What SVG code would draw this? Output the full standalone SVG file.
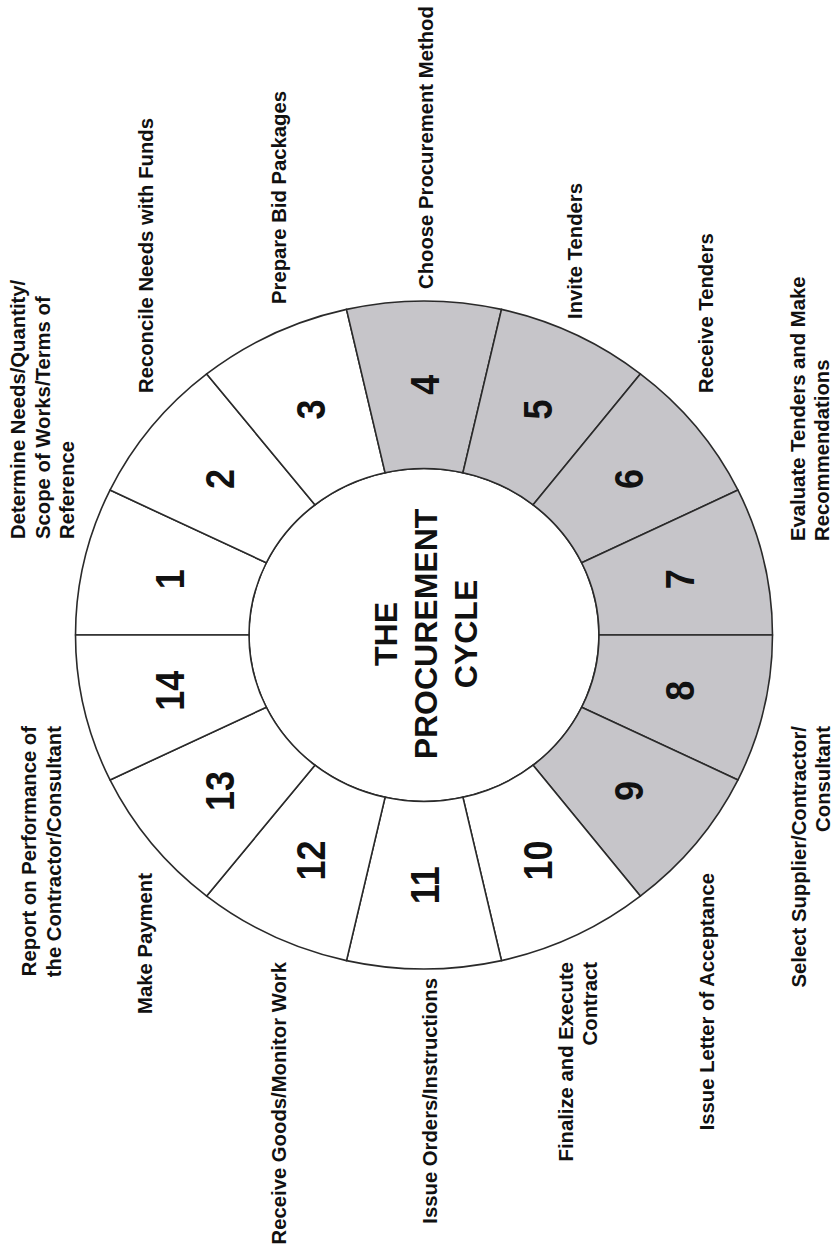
<svg xmlns="http://www.w3.org/2000/svg" width="837" height="1251" viewBox="0 0 837 1251">
<style>
.seg{stroke:#2a2a2a;stroke-width:1.6;stroke-linejoin:round}
.w{fill:#ffffff}
.g{fill:#c6c5c9}
.num{font-family:"Liberation Sans",Arial,sans-serif;font-weight:bold;font-size:36px;fill:#111;text-anchor:middle}
.lab{font-family:"Liberation Sans",Arial,sans-serif;font-weight:bold;font-size:20.3px;fill:#111}
.s{text-anchor:start}
.e{text-anchor:end}
.ctr{font-family:"Liberation Sans",Arial,sans-serif;font-weight:bold;font-size:32px;fill:#111;text-anchor:middle}
</style>
<rect width="837" height="1251" fill="#ffffff"/>
<g id="center">
<ellipse cx="424" cy="635" rx="175" ry="166.5" fill="#ffffff" stroke="#2a2a2a" stroke-width="1.6"/>
<text class="ctr" transform="translate(436.7,634) rotate(-90)"><tspan x="0" y="-40">THE</tspan><tspan x="0" y="0">PROCUREMENT</tspan><tspan x="0" y="40">CYCLE</tspan></text>
</g>
<g id="step1">
<path class="seg w" d="M75.5,635 A348.5,334 0 0 1 110,490.1 L266.33,562.76 A175,166.5 0 0 0 249,635 Z"/>
<text class="num" transform="translate(168.8,579.3) rotate(-90) scale(1,1.15)" y="12.9">1</text>
<text class="lab s" transform="translate(25,539) rotate(-90)"><tspan x="0" y="0">Determine Needs/Quantity/</tspan><tspan x="0" y="24.5">Scope of Works/Terms of</tspan><tspan x="0" y="49">Reference</tspan></text>
</g>
<g id="step2">
<path class="seg w" d="M110,490.1 A348.5,334 0 0 1 206.7,373.9 L314.89,504.83 A175,166.5 0 0 0 266.33,562.76 Z"/>
<text class="num" transform="translate(219.4,479) rotate(-90) scale(1,1.15)" y="12.9">2</text>
<text class="lab s" transform="translate(153,393) rotate(-90)">Reconcile Needs with Funds</text>
</g>
<g id="step3">
<path class="seg w" d="M206.7,373.9 A348.5,334 0 0 1 346.5,309.4 L385.06,472.67 A175,166.5 0 0 0 314.89,504.83 Z"/>
<text class="num" transform="translate(310.4,409.5) rotate(-90) scale(1,1.15)" y="12.9">3</text>
<text class="lab s" transform="translate(286,304) rotate(-90)">Prepare Bid Packages</text>
</g>
<g id="step4">
<path class="seg g" d="M346.5,309.4 A348.5,334 0 0 1 501.5,309.4 L462.94,472.67 A175,166.5 0 0 0 385.06,472.67 Z"/>
<text class="num" transform="translate(424,384.8) rotate(-90) scale(1,1.15)" y="12.9">4</text>
<text class="lab s" transform="translate(433,289) rotate(-90)">Choose Procurement Method</text>
</g>
<g id="step5">
<path class="seg g" d="M501.5,309.4 A348.5,334 0 0 1 640.3,373.9 L533.11,504.83 A175,166.5 0 0 0 462.94,472.67 Z"/>
<text class="num" transform="translate(537.6,409.5) rotate(-90) scale(1,1.15)" y="12.9">5</text>
<text class="lab s" transform="translate(581.5,319) rotate(-90)">Invite Tenders</text>
</g>
<g id="step6">
<path class="seg g" d="M640.3,373.9 A348.5,334 0 0 1 738,490.1 L581.67,562.76 A175,166.5 0 0 0 533.11,504.83 Z"/>
<text class="num" transform="translate(628.6,479) rotate(-90) scale(1,1.15)" y="12.9">6</text>
<text class="lab s" transform="translate(713,393) rotate(-90)">Receive Tenders</text>
</g>
<g id="step7">
<path class="seg g" d="M738,490.1 A348.5,334 0 0 1 772.5,635 L599,635 A175,166.5 0 0 0 581.67,562.76 Z"/>
<text class="num" transform="translate(679.2,579.3) rotate(-90) scale(1,1.15)" y="12.9">7</text>
<text class="lab s" transform="translate(805,541) rotate(-90)"><tspan x="0" y="0">Evaluate Tenders and Make</tspan><tspan x="0" y="24">Recommendations</tspan></text>
</g>
<g id="step8">
<path class="seg g" d="M772.5,635 A348.5,334 0 0 1 738,779.9 L581.67,707.24 A175,166.5 0 0 0 599,635 Z"/>
<text class="num" transform="translate(679.2,690.7) rotate(-90) scale(1,1.15)" y="12.9">8</text>
<text class="lab e" transform="translate(806,726) rotate(-90)"><tspan x="0" y="0">Select Supplier/Contractor/</tspan><tspan x="0" y="24">Consultant</tspan></text>
</g>
<g id="step9">
<path class="seg g" d="M738,779.9 A348.5,334 0 0 1 640.3,896.1 L533.11,765.17 A175,166.5 0 0 0 581.67,707.24 Z"/>
<text class="num" transform="translate(628.6,791) rotate(-90) scale(1,1.15)" y="12.9">9</text>
<text class="lab e" transform="translate(714,873) rotate(-90)">Issue Letter of Acceptance</text>
</g>
<g id="step10">
<path class="seg w" d="M640.3,896.1 A348.5,334 0 0 1 501.5,960.6 L462.94,797.33 A175,166.5 0 0 0 533.11,765.17 Z"/>
<text class="num" transform="translate(537.6,860.5) rotate(-90) scale(1,1.15)" y="12.9">10</text>
<text class="lab e" transform="translate(573,962) rotate(-90)"><tspan x="0" y="0">Finalize and Execute</tspan><tspan x="0" y="24">Contract</tspan></text>
</g>
<g id="step11">
<path class="seg w" d="M501.5,960.6 A348.5,334 0 0 1 346.5,960.6 L385.06,797.33 A175,166.5 0 0 0 462.94,797.33 Z"/>
<text class="num" transform="translate(424,885.2) rotate(-90) scale(1,1.15)" y="12.9">11</text>
<text class="lab e" transform="translate(437,978) rotate(-90)">Issue Orders/Instructions</text>
</g>
<g id="step12">
<path class="seg w" d="M346.5,960.6 A348.5,334 0 0 1 206.7,896.1 L314.89,765.17 A175,166.5 0 0 0 385.06,797.33 Z"/>
<text class="num" transform="translate(310.4,860.5) rotate(-90) scale(1,1.15)" y="12.9">12</text>
<text class="lab e" transform="translate(286,962) rotate(-90)">Receive Goods/Monitor Work</text>
</g>
<g id="step13">
<path class="seg w" d="M206.7,896.1 A348.5,334 0 0 1 110,779.9 L266.33,707.24 A175,166.5 0 0 0 314.89,765.17 Z"/>
<text class="num" transform="translate(219.4,791) rotate(-90) scale(1,1.15)" y="12.9">13</text>
<text class="lab e" transform="translate(152,873) rotate(-90)">Make Payment</text>
</g>
<g id="step14">
<path class="seg w" d="M110,779.9 A348.5,334 0 0 1 75.5,635 L249,635 A175,166.5 0 0 0 266.33,707.24 Z"/>
<text class="num" transform="translate(168.8,690.7) rotate(-90) scale(1,1.15)" y="12.9">14</text>
<text class="lab e" transform="translate(36,726) rotate(-90)"><tspan x="0" y="0">Report on Performance of</tspan><tspan x="0" y="25">the Contractor/Consultant</tspan></text>
</g>
</svg>
